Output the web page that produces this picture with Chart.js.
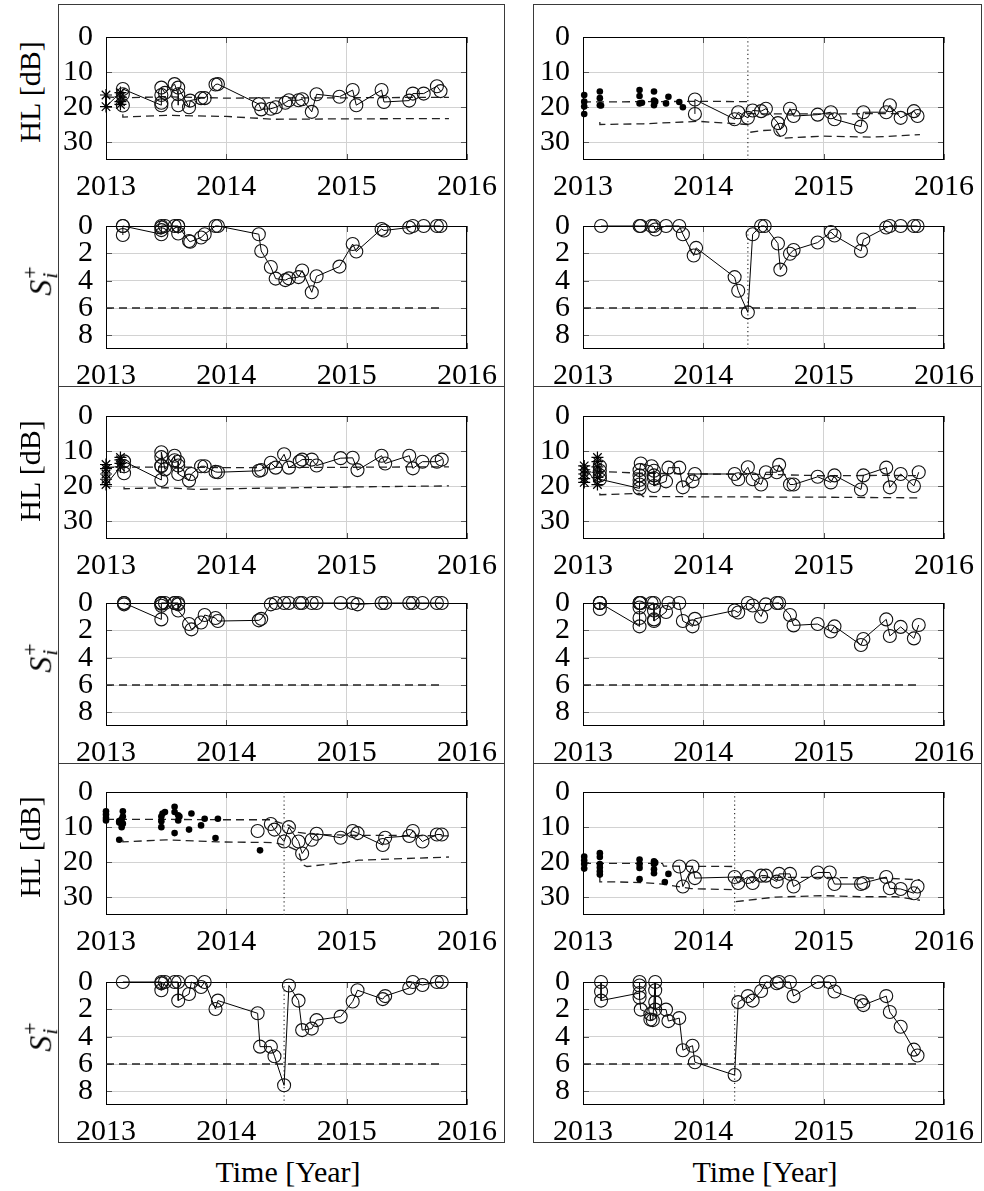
<!DOCTYPE html>
<html>
<head>
<meta charset="utf-8">
<script src="https://cdn.jsdelivr.net/npm/chart.js@4.4.1/dist/chart.umd.min.js"></script>
<style>
  html, body { margin: 0; padding: 0; background: #fff; }
  body { position: relative; width: 984px; height: 1191px; overflow: hidden; font-family: "Liberation Serif", "DejaVu Serif", serif; color: #000; }
  .box { position: absolute; border: 1px solid #3a3a3a; box-sizing: border-box; }
  .pan { position: absolute; }
  .rot { position: absolute; white-space: nowrap; transform: translate(-50%, -50%) rotate(-90deg); font-size: 30px; line-height: 1; }
  .slab { display: inline-flex; align-items: center; }
  .slab .S { font-style: italic; font-size: 32px; }
  .slab .ss { display: inline-flex; flex-direction: column; font-size: 22px; line-height: 0.9; margin-left: 1px; }
  .slab .ss i { font-style: italic; }
  .xlab { position: absolute; transform: translate(-50%, -50%); font-size: 30px; white-space: nowrap; }
</style>
</head>
<body>
<script>
// ---------- axes ----------
const YEAR_TICKS = [2013, 2014, 2015, 2016];
const HL_TICKS = [0, 10, 20, 30];
const S_TICKS = [0, 2, 4, 6, 8];
const HL_MAX = 35;
const S_MAX = 9;
const S_LIMIT = 6;
const S_LIMIT_SPAN = [2013.0, 2015.8];

// ---------- top pair, left ----------
const aL_starT  = [2013.0, 2013.0, 2013.12, 2013.12, 2013.12, 2013.12];
const aL_starHL = [16.5, 19.8, 15.8, 17.0, 18.4, 19.2];
const aL_t  = [2013.14,2013.14,2013.14,2013.46,2013.46,2013.46,2013.46,2013.49,2013.57,2013.60,2013.60,2013.60,2013.69,2013.70,2013.79,2013.82,2013.91,2013.93,2014.27,2014.29,2014.37,2014.41,2014.49,2014.52,2014.60,2014.63,2014.71,2014.75,2014.94,2015.05,2015.08,2015.29,2015.31,2015.52,2015.55,2015.64,2015.75,2015.78];
const aL_hl = [19.5,16.3,14.8,19.4,18.7,16.5,14.4,15.9,13.4,16.3,19.4,14.4,20.0,18.1,17.4,17.4,13.5,13.4,19.1,20.6,20.4,20.0,18.7,18.0,18.0,17.7,21.3,16.3,17.0,15.1,19.4,15.1,18.5,18.1,16.1,16.1,14.0,15.4];
const aL_s  = [0.66,0,0,0.6,0.3,0.1,0,0,0,0,0.55,0,1.1,1.15,0.84,0.6,0,0,0.6,1.83,3.0,3.85,3.96,3.83,3.74,3.26,4.85,3.68,2.97,1.32,1.87,0.22,0.33,0.11,0,0,0,0];
const aL_upT  = [2013.0, 2013.13, 2013.5, 2014.0, 2014.4, 2015.0, 2015.5, 2015.85];
const aL_upHL = [17.0, 17.3, 17.0, 17.4, 17.3, 17.3, 17.2, 17.2];
const aL_loT  = [2013.14, 2013.14, 2013.5, 2014.0, 2014.4, 2015.0, 2015.85];
const aL_loHL = [22.0, 22.8, 22.3, 22.6, 23.4, 23.3, 23.2];

// ---------- top pair, right ----------
const aR_dotT  = [2013.01,2013.01,2013.01,2013.01,2013.14,2013.14,2013.14,2013.15,2013.47,2013.47,2013.47,2013.49,2013.59,2013.59,2013.59,2013.60,2013.69,2013.71,2013.80,2013.83];
const aR_dotHL = [16.5,18.4,19.8,21.9,15.5,17.4,19.4,19.5,15.1,16.8,18.9,18.7,15.5,18.1,19.4,18.4,18.9,17.0,18.5,20.0];
const aR_t  = [2013.93,2013.93,2014.26,2014.29,2014.37,2014.41,2014.48,2014.52,2014.62,2014.64,2014.72,2014.75,2014.95,2015.06,2015.09,2015.31,2015.33,2015.52,2015.55,2015.64,2015.75,2015.78];
const aR_hl = [21.9,17.8,23.4,21.4,23.0,20.9,21.1,20.4,24.5,26.4,20.4,22.5,22.1,21.4,23.4,25.5,21.4,21.4,19.4,23.0,21.1,22.5];
const aR_sT = [2013.15,2013.47,2013.48,2013.57,2013.59,2013.60,2013.69,2013.80,2013.83,2013.92,2013.94,2014.26,2014.29,2014.37,2014.41,2014.48,2014.51,2014.62,2014.64,2014.72,2014.75,2014.95,2015.06,2015.09,2015.31,2015.33,2015.52,2015.55,2015.64,2015.75,2015.78];
const aR_s  = [0,0,0,0,0,0.26,0,0,0.6,2.16,1.6,3.74,4.74,6.32,0.6,0,0,1.28,3.19,2.03,1.76,1.21,0.44,0.7,1.83,0.99,0.11,0,0,0,0];
const aR_upT  = [2013.0, 2013.5, 2014.0, 2014.37, 2014.37, 2014.37, 2014.6, 2015.0, 2015.5, 2015.8];
const aR_upHL = [18.5, 18.4, 18.3, 18.4, null, 21.8, 21.9, 21.9, 21.8, 21.9];
const aR_loT  = [2013.14, 2013.14, 2013.5, 2013.96, 2014.37, 2014.38, 2014.39, 2014.5, 2014.6, 2014.65, 2015.0, 2015.4, 2015.8];
const aR_loHL = [24.2, 24.9, 24.7, 24.0, 24.9, null, 27.1, 26.6, 26.4, 28.8, 28.2, 28.5, 27.8];
const aR_change = 2014.37;

// ---------- middle pair, left ----------
const bL_starT  = [2013.0,2013.0,2013.0,2013.0,2013.0,2013.12,2013.12,2013.12,2013.12];
const bL_starHL = [13.8,15.0,16.5,18.0,19.5,14.5,13.5,12.5,11.8];
const bL_t  = [2013.15,2013.15,2013.15,2013.46,2013.46,2013.46,2013.46,2013.46,2013.49,2013.57,2013.57,2013.60,2013.60,2013.60,2013.69,2013.71,2013.79,2013.82,2013.91,2013.93,2014.27,2014.29,2014.37,2014.41,2014.48,2014.52,2014.61,2014.63,2014.71,2014.75,2014.95,2015.05,2015.09,2015.29,2015.32,2015.52,2015.55,2015.63,2015.75,2015.79];
const bL_hl = [16.3,14.3,12.9,18.2,14.3,14.1,11.7,10.3,15.2,11.3,12.6,13.0,14.1,16.5,18.4,16.5,14.3,14.3,15.9,16.0,15.6,15.4,13.3,14.7,10.9,14.7,12.9,12.4,12.4,14.1,12.0,11.9,15.4,11.3,13.5,11.3,14.9,13.0,13.0,12.4];
const bL_s  = [0.1,0,0,1.2,0.2,0.05,0,0,0,0,0,0,0.1,0.55,1.54,1.93,1.43,0.88,1.1,1.32,1.27,1.16,0.1,0,0,0,0,0,0,0,0,0,0.1,0,0,0,0,0,0,0];
const bL_upT  = [2013.0, 2013.5, 2014.0, 2014.5, 2015.0, 2015.5, 2015.85];
const bL_upHL = [14.6, 14.5, 14.7, 14.6, 14.6, 14.5, 14.5];
const bL_loT  = [2013.15, 2013.15, 2013.5, 2013.75, 2014.0, 2015.0, 2015.85];
const bL_loHL = [20.1, 20.7, 20.4, 20.9, 20.7, 20.2, 19.9];

// ---------- middle pair, right ----------
const bR_starT  = [2013.01,2013.01,2013.01,2013.01,2013.01,2013.12,2013.12,2013.12,2013.12,2013.12,2013.12];
const bR_starHL = [18.9,17.8,16.5,15.3,14.2,19.5,17.5,16.0,14.5,13.0,11.8];
const bR_t  = [2013.14,2013.14,2013.14,2013.14,2013.47,2013.47,2013.47,2013.47,2013.47,2013.48,2013.57,2013.59,2013.59,2013.59,2013.59,2013.69,2013.71,2013.80,2013.83,2013.91,2013.93,2014.26,2014.29,2014.37,2014.41,2014.48,2014.52,2014.61,2014.63,2014.72,2014.75,2014.95,2015.06,2015.09,2015.31,2015.33,2015.52,2015.55,2015.64,2015.75,2015.79];
const bR_hl = [14.3,15.6,16.9,18.0,20.6,19.5,18.2,16.9,15.4,13.5,14.3,15.6,16.9,17.7,19.9,18.6,14.7,14.7,20.3,18.6,16.5,16.5,18.0,14.6,18.0,19.5,16.0,16.0,13.9,19.5,19.5,17.3,18.9,16.9,20.9,16.9,14.7,20.3,16.5,19.9,16.0];
const bR_s  = [0,0,0.44,0,1.71,1.1,0.33,0,0,0,0,0,0.55,1.2,1.32,0.66,0,0,1.32,1.71,1.16,0.55,0.7,0,0.18,0.99,0.1,0,0,0.88,1.64,1.54,2.08,1.71,3.07,2.63,1.2,2.41,1.75,2.59,1.61];
const bR_upT  = [2013.0, 2013.14, 2013.5, 2014.0, 2014.5, 2015.0, 2015.5, 2015.8];
const bR_upHL = [16.0, 15.8, 16.3, 16.5, 16.6, 17.0, 16.9, 17.0];
const bR_loT  = [2013.14, 2013.14, 2013.47, 2013.5, 2014.0, 2015.0, 2015.8];
const bR_loHL = [22.0, 22.4, 22.0, 22.9, 23.0, 23.1, 23.3];

// ---------- bottom pair, left ----------
const cL_dotT  = [2013.0,2013.0,2013.0,2013.0,2013.11,2013.11,2013.11,2013.13,2013.13,2013.13,2013.14,2013.14,2013.14,2013.46,2013.46,2013.46,2013.47,2013.49,2013.57,2013.57,2013.57,2013.60,2013.60,2013.61,2013.69,2013.71,2013.79,2013.82,2013.91,2013.93,2014.28];
const cL_dotHL = [5.5,6.4,7.4,8.1,8.3,8.7,13.6,7.8,9.1,10.0,5.5,7.0,9.0,7.0,8.3,10.0,6.1,5.7,4.2,5.7,11.7,6.6,8.1,7.0,10.7,6.1,9.5,7.6,13.1,7.6,16.6];
const cL_firstT  = [2014.26];
const cL_firstHL = [11.1];
const cL_t  = [2014.37,2014.40,2014.48,2014.52,2014.60,2014.63,2014.71,2014.75,2014.95,2015.05,2015.09,2015.30,2015.32,2015.52,2015.55,2015.63,2015.75,2015.79];
const cL_hl = [9.1,10.7,14.1,10.0,14.1,17.5,13.6,11.9,13.0,11.1,11.7,15.1,13.0,12.5,11.1,14.1,12.1,12.1];
const cL_sT = [2013.14,2013.46,2013.46,2013.46,2013.49,2013.57,2013.60,2013.60,2013.69,2013.71,2013.79,2013.82,2013.91,2013.93,2014.26,2014.28,2014.37,2014.40,2014.48,2014.52,2014.60,2014.63,2014.71,2014.75,2014.95,2015.05,2015.09,2015.30,2015.32,2015.52,2015.55,2015.63,2015.75,2015.79];
const cL_s  = [0,0,0.1,0.6,0,0,0,1.36,0.88,0,0.37,0,1.98,1.36,2.29,4.73,4.73,5.43,7.56,0.26,1.36,3.52,3.41,2.79,2.53,1.43,0.6,1.25,1.03,0.44,0,0.22,0,0];
const cL_upT  = [2013.0, 2013.5, 2014.0, 2014.37, 2014.45, 2014.52, 2014.6, 2014.7, 2015.0, 2015.5, 2015.85];
const cL_upHL = [7.8, 7.8, 7.9, 7.9, 8.8, 9.5, 11.5, 12.0, 12.3, 12.4, 12.5];
const cL_loT  = [2013.14, 2013.14, 2013.5, 2013.93, 2014.4, 2014.5, 2014.6, 2014.63, 2014.67, 2015.0, 2015.1, 2015.85];
const cL_loHL = [13.6, 14.2, 13.6, 14.2, 14.4, 15.3, 16.8, 20.6, 21.2, 20.0, 19.4, 18.5];
const cL_change = 2014.48;

// ---------- bottom pair, right ----------
const cR_dotT  = [2013.01,2013.01,2013.01,2013.01,2013.14,2013.14,2013.14,2013.14,2013.14,2013.14,2013.47,2013.47,2013.47,2013.47,2013.59,2013.59,2013.59,2013.59,2013.60,2013.68,2013.71];
const cR_dotHL = [18.4,19.5,20.5,21.8,17.4,18.5,20.5,21.5,22.6,23.5,19.2,20.5,21.6,24.8,19.7,20.5,22.0,23.1,20.1,25.6,23.3];
const cR_t  = [2013.80,2013.83,2013.91,2013.93,2014.26,2014.29,2014.37,2014.41,2014.48,2014.52,2014.61,2014.63,2014.72,2014.75,2014.95,2015.05,2015.09,2015.31,2015.33,2015.52,2015.55,2015.64,2015.75,2015.78];
const cR_hl = [21.2,26.9,21.2,24.5,24.2,25.9,24.2,25.9,23.8,23.8,25.5,23.3,23.3,26.9,22.9,22.9,26.2,26.2,25.9,24.2,27.4,27.6,28.8,26.9];
const cR_sT = [2013.15,2013.15,2013.15,2013.47,2013.47,2013.47,2013.47,2013.48,2013.56,2013.56,2013.58,2013.60,2013.60,2013.60,2013.60,2013.69,2013.71,2013.80,2013.83,2013.91,2013.93,2014.26,2014.29,2014.37,2014.41,2014.48,2014.52,2014.61,2014.63,2014.72,2014.75,2014.95,2015.05,2015.09,2015.31,2015.33,2015.52,2015.55,2015.64,2015.75,2015.78];
const cR_s  = [0,0.7,1.36,0.81,0,0.26,1.14,2.02,2.35,2.75,2.79,0,0.6,1.47,2.02,2.02,2.86,2.64,4.99,4.66,5.87,6.81,1.47,1.03,1.36,0.66,0,0.09,0,0,1.03,0,0,0.7,1.41,1.69,1.03,2.2,3.27,4.95,5.38];
const cR_upT  = [2013.0, 2013.66, 2013.67, 2014.26, 2014.265, 2014.27, 2014.6, 2015.0, 2015.5, 2015.8];
const cR_upHL = [20.3, 20.3, 21.1, 21.2, null, 24.4, 24.3, 24.3, 24.5, 25.0];
const cR_loT  = [2013.14, 2013.14, 2013.3, 2013.5, 2013.66, 2013.9, 2014.26, 2014.265, 2014.27, 2014.6, 2015.0, 2015.3, 2015.6, 2015.8];
const cR_loHL = [20.3, 25.6, 25.6, 25.8, 26.2, 27.5, 27.8, null, 31.2, 29.9, 29.5, 29.8, 29.8, 30.8];
const cR_change = 2014.26;

// ---------- dataset styles ----------
const zip = (xs, ys) => xs.map((x, i) => ({ x, y: ys[i] }));

function openCircles(xs, ys, joined = true) {
  return { data: zip(xs, ys), showLine: joined, borderColor: '#000', borderWidth: 1,
    pointStyle: 'circle', pointRadius: 6.5, pointHoverRadius: 6.5, pointBorderColor: '#111',
    pointBackgroundColor: 'rgba(0,0,0,0)', pointBorderWidth: 1.1, clip: false };
}
function filledDots(xs, ys) {
  return { data: zip(xs, ys), showLine: false, pointStyle: 'circle', pointRadius: 3.3,
    pointHoverRadius: 3.3, pointBackgroundColor: '#000', pointBorderColor: '#000', pointBorderWidth: 0, clip: false };
}
function asterisks(xs, ys) {
  return { data: zip(xs, ys), showLine: true, borderColor: '#000', borderWidth: 1,
    pointStyle: 'star', pointRadius: 6, pointHoverRadius: 6, pointBorderColor: '#000', pointBorderWidth: 1.2, clip: false };
}
function dashed(xs, ys) {
  return { data: zip(xs, ys), showLine: true, borderColor: '#222', borderWidth: 1.3,
    borderDash: [8, 5], pointRadius: 0, pointHoverRadius: 0, spanGaps: false };
}
function changeMark(t, top) {
  return { data: [{ x: t, y: 0 }, { x: t, y: top }], showLine: true, borderColor: '#333', borderWidth: 1.2,
    borderDash: [1.2, 3], pointRadius: 0, pointHoverRadius: 0 };
}
function limitLine() {
  return { data: zip(S_LIMIT_SPAN, S_LIMIT_SPAN.map(() => S_LIMIT)), showLine: true, borderColor: '#222',
    borderWidth: 1.3, borderDash: [8, 5], pointRadius: 0, pointHoverRadius: 0 };
}

// ---------- panels ----------
const COL_LEFT = [106, 583];
const PLOT_W = 364, PLOT_H = 136;
const PAD_L = 56, PAD_T = 18, PAD_R = 36, PAD_B = 44;

const PANELS = [
  { col: 0, top: 24,  yMax: HL_MAX, yTicks: HL_TICKS, sets: [openCircles(aL_t, aL_hl), asterisks(aL_starT, aL_starHL), dashed(aL_upT, aL_upHL), dashed(aL_loT, aL_loHL)] },
  { col: 0, top: 213, yMax: S_MAX,  yTicks: S_TICKS,  sets: [openCircles(aL_t, aL_s), limitLine()] },
  { col: 1, top: 24,  yMax: HL_MAX, yTicks: HL_TICKS, sets: [openCircles(aR_t, aR_hl), filledDots(aR_dotT, aR_dotHL), dashed(aR_upT, aR_upHL), dashed(aR_loT, aR_loHL), changeMark(aR_change, HL_MAX)] },
  { col: 1, top: 213, yMax: S_MAX,  yTicks: S_TICKS,  sets: [openCircles(aR_sT, aR_s), limitLine(), changeMark(aR_change, S_MAX)] },

  { col: 0, top: 403, yMax: HL_MAX, yTicks: HL_TICKS, sets: [openCircles(bL_t, bL_hl), asterisks(bL_starT, bL_starHL), dashed(bL_upT, bL_upHL), dashed(bL_loT, bL_loHL)] },
  { col: 0, top: 590, yMax: S_MAX,  yTicks: S_TICKS,  sets: [openCircles(bL_t, bL_s), limitLine()] },
  { col: 1, top: 403, yMax: HL_MAX, yTicks: HL_TICKS, sets: [openCircles(bR_t, bR_hl), asterisks(bR_starT, bR_starHL), dashed(bR_upT, bR_upHL), dashed(bR_loT, bR_loHL)] },
  { col: 1, top: 590, yMax: S_MAX,  yTicks: S_TICKS,  sets: [openCircles(bR_t, bR_s), limitLine()] },

  { col: 0, top: 779, yMax: HL_MAX, yTicks: HL_TICKS, sets: [openCircles(cL_t, cL_hl), openCircles(cL_firstT, cL_firstHL, false), filledDots(cL_dotT, cL_dotHL), dashed(cL_upT, cL_upHL), dashed(cL_loT, cL_loHL), changeMark(cL_change, HL_MAX)] },
  { col: 0, top: 969, yMax: S_MAX,  yTicks: S_TICKS,  sets: [openCircles(cL_sT, cL_s), limitLine(), changeMark(cL_change, S_MAX)] },
  { col: 1, top: 779, yMax: HL_MAX, yTicks: HL_TICKS, sets: [openCircles(cR_t, cR_hl), filledDots(cR_dotT, cR_dotHL), dashed(cR_upT, cR_upHL), dashed(cR_loT, cR_loHL), changeMark(cR_change, HL_MAX)] },
  { col: 1, top: 969, yMax: S_MAX,  yTicks: S_TICKS,  sets: [openCircles(cR_sT, cR_s), limitLine(), changeMark(cR_change, S_MAX)] }
];

// plot frame with inward tick marks
const framePlugin = {
  id: 'frame',
  beforeDatasetsDraw(chart) {
    const { ctx, chartArea: a, scales: { x, y } } = chart;
    ctx.save();
    ctx.strokeStyle = '#555';
    ctx.lineWidth = 1;
    ctx.beginPath();
    for (const t of x.ticks) {
      const px = Math.round(x.getPixelForValue(t.value)) + 0.5;
      ctx.moveTo(px, a.bottom); ctx.lineTo(px, a.bottom - 6);
      ctx.moveTo(px, a.top); ctx.lineTo(px, a.top + 6);
    }
    for (const t of y.ticks) {
      const py = Math.round(y.getPixelForValue(t.value)) + 0.5;
      ctx.moveTo(a.left, py); ctx.lineTo(a.left + 6, py);
      ctx.moveTo(a.right, py); ctx.lineTo(a.right - 6, py);
    }
    ctx.stroke();
    ctx.strokeStyle = '#000';
    ctx.strokeRect(a.left + 0.5, a.top + 0.5, a.width - 1, a.height - 1);
    ctx.restore();
  }
};

const SERIF = 'Liberation Serif';
Chart.defaults.font.family = SERIF;
Chart.defaults.font.size = 30;
const TICK_FONT = { family: SERIF, size: 30 };
const GRID = { color: '#d2d2d2', lineWidth: 1, drawTicks: false };

function scales(yMax, yTicks) {
  return {
    x: {
      type: 'linear', min: YEAR_TICKS[0], max: YEAR_TICKS[YEAR_TICKS.length - 1],
      afterBuildTicks: s => { s.ticks = YEAR_TICKS.map(v => ({ value: v })); },
      afterFit: s => { s.height = PAD_B; },
      ticks: { font: TICK_FONT, color: '#000', padding: 9, maxRotation: 0, autoSkip: false, callback: v => String(v) },
      grid: GRID, border: { display: false }
    },
    y: {
      type: 'linear', reverse: true, min: 0, max: yMax,
      afterBuildTicks: s => { s.ticks = yTicks.map(v => ({ value: v })); },
      afterFit: s => { s.width = PAD_L; },
      ticks: { font: TICK_FONT, color: '#000', padding: 13, autoSkip: false, callback: v => String(v) },
      grid: GRID, border: { display: false }
    }
  };
}

for (const p of PANELS) {
  const c = document.createElement('canvas');
  const w = PAD_L + PLOT_W + PAD_R, h = PAD_T + PLOT_H + PAD_B;
  c.width = w; c.height = h;
  c.className = 'pan';
  c.style.left = (COL_LEFT[p.col] - PAD_L) + 'px';
  c.style.top = (p.top - PAD_T) + 'px';
  c.style.width = w + 'px'; c.style.height = h + 'px';
  document.body.appendChild(c);
  new Chart(c, {
    type: 'scatter',
    data: { datasets: p.sets },
    options: {
      responsive: false, animation: false, devicePixelRatio: 1, events: [],
      layout: { padding: { left: 0, top: PAD_T, right: PAD_R, bottom: 0 } },
      plugins: { legend: { display: false }, tooltip: { enabled: false } },
      scales: scales(p.yMax, p.yTicks)
    },
    plugins: [framePlugin]
  });
}

// ---------- surrounding boxes and axis titles ----------
const BOX_X = [[58, 505], [533, 982]];
const BOX_Y = [4, 386, 763, 1142];
for (const [x0, x1] of BOX_X) {
  for (let r = 0; r < 3; r++) {
    const d = document.createElement('div');
    d.className = 'box';
    d.style.left = x0 + 'px'; d.style.top = BOX_Y[r] + 'px';
    d.style.width = (x1 - x0) + 'px'; d.style.height = (BOX_Y[r + 1] - BOX_Y[r] + 1) + 'px';
    document.body.appendChild(d);
  }
}
const HL_TOPS = [24, 403, 779], S_TOPS = [213, 590, 969];
for (const t of HL_TOPS) {
  const d = document.createElement('div');
  d.className = 'rot';
  d.textContent = 'HL [dB]';
  d.style.left = '30px'; d.style.top = (t + PLOT_H / 2) + 'px';
  document.body.appendChild(d);
}
for (const t of S_TOPS) {
  const d = document.createElement('div');
  d.className = 'rot';
  d.innerHTML = '<span class="slab"><span class="S">S</span><span class="ss"><span>+</span><i>i</i></span></span>';
  d.style.left = '40px'; d.style.top = (t + PLOT_H / 2) + 'px';
  document.body.appendChild(d);
}
for (const col of [0, 1]) {
  const d = document.createElement('div');
  d.className = 'xlab';
  d.textContent = 'Time [Year]';
  d.style.left = (COL_LEFT[col] + PLOT_W / 2) + 'px'; d.style.top = '1172px';
  document.body.appendChild(d);
}
</script>
</body>
</html>
